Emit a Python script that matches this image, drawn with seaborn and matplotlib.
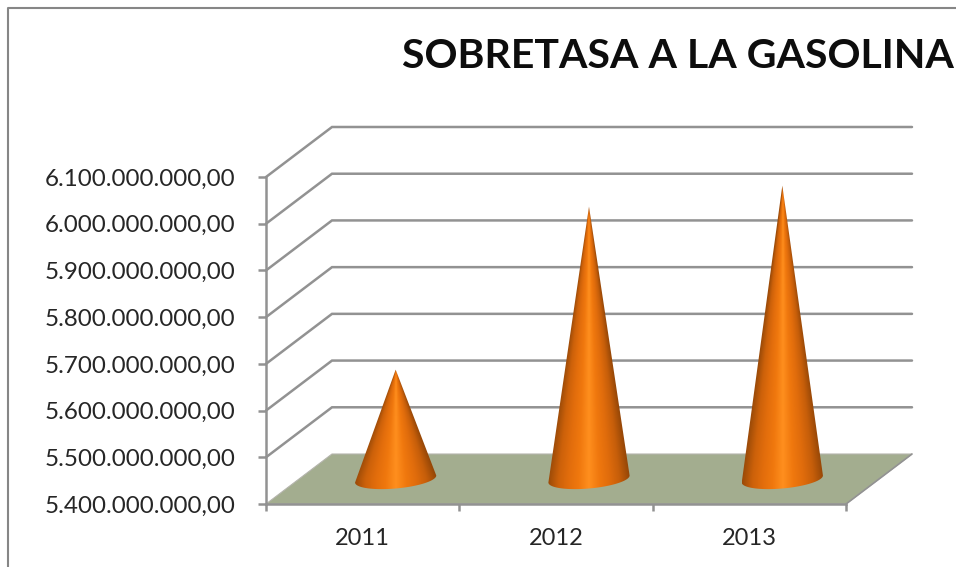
import numpy as np
import pandas as pd
import seaborn as sns
import matplotlib.pyplot as plt
from matplotlib.colors import LinearSegmentedColormap
from matplotlib.lines import Line2D
from matplotlib.patches import Polygon

anios = ["2011", "2012", "2013"]
valores = [5634000000, 5983000000, 6028000000]
ticks_y = [5400000000, 5500000000, 5600000000, 5700000000,
           5800000000, 5900000000, 6000000000, 6100000000]
etiquetas_y = ["5.400.000.000,00", "5.500.000.000,00", "5.600.000.000,00", "5.700.000.000,00",
               "5.800.000.000,00", "5.900.000.000,00", "6.000.000.000,00", "6.100.000.000,00"]
titulo = "SOBRETASA A LA GASOLINA"

W, H = 956, 567
GRIS = "#929292"
TEXTO = "#262626"

sns.set_theme(style="white")
plt.rcParams["font.family"] = ["Lato", "DejaVu Sans"]

fig = plt.figure(figsize=(W / 100, H / 100), dpi=100, facecolor="white")
ax = fig.add_axes([266 / W, (H - 504) / H, 580 / W, 327 / H])

df = pd.DataFrame({"Anio": anios, "Valor": valores})
sns.barplot(data=df, x="Anio", y="Valor", width=0.42, ax=ax)  # las barras dan la posicion de los conos

y_min, y_max = ticks_y[0], ticks_y[-1]
x_min, x_max = -0.5, 2.5
ax.set_xlim(x_min, x_max)
ax.set_ylim(y_min, y_max)

# escala pixel -> datos, para la profundidad falsa 3D
px_x = (x_max - x_min) / 580
px_y = (y_max - y_min) / 327
fondo_x = 66 * px_x
fondo_y = 50 * px_y

# pared del fondo
for t in ticks_y[1:]:
    ax.plot([x_min, x_min + fondo_x, x_max + fondo_x], [t, t + fondo_y, t + fondo_y],
            color=GRIS, lw=1.8, clip_on=False, zorder=1, solid_joinstyle="miter")

# piso
piso = Polygon(
    [(x_min, y_min), (x_max, y_min), (x_max + fondo_x, y_min + fondo_y), (x_min + fondo_x, y_min + fondo_y)],
    closed=True, facecolor="#a3ad8f", edgecolor="#b4b4ac", lw=0.8, clip_on=False, zorder=2,
)
ax.add_patch(piso)
ax.plot([x_max, x_max + fondo_x], [y_min, y_min + fondo_y], color=GRIS, lw=1.2, clip_on=False, zorder=2.5)

# conos con gradiente
colores = ["#9a4a08", "#cc610a", "#e26d0c", "#f0780e", "#ff8f1e", "#f0780e", "#e06c0c", "#c65e0a", "#964707"]
mapa = LinearSegmentedColormap.from_list("naranja", colores)
b_elipse = 9.5 * px_y
inclinacion = 3.5 * px_y

for barra in list(ax.patches):
    if not isinstance(barra, Polygon) and barra is not piso:
        barra.set_visible(False)
        centro = barra.get_x() + barra.get_width() / 2 + fondo_x / 2
        a = barra.get_width() / 2
        cima = barra.get_height() + fondo_y / 2
        base = y_min + fondo_y / 2
        t = np.linspace(0, -np.pi, 60)
        arco_x = centro + a * np.cos(t)
        arco_y = base + b_elipse * np.sin(t) + inclinacion * np.cos(t)
        puntos = np.column_stack([np.r_[centro, arco_x], np.r_[cima, arco_y]])
        cono = Polygon(puntos, closed=True, facecolor="none", edgecolor="none",
                       transform=ax.transData, clip_on=False)
        ax.add_patch(cono)
        abajo = base - 1.3 * b_elipse
        xs = np.linspace(centro - a, centro + a, 300)
        ys = np.linspace(abajo, cima, 500)
        X, Y = np.meshgrid(xs, ys)
        ancho = a * np.clip((cima - Y) / (cima - base), 0.004, 1)
        U = np.clip((X - centro) / ancho, -1, 1)
        img = ax.imshow(U, cmap=mapa, vmin=-1, vmax=1, origin="lower", aspect="auto",
                        extent=(centro - a, centro + a, abajo, cima), zorder=3, interpolation="bilinear")
        img.set_clip_path(cono)

ax.set_xlim(x_min, x_max)
ax.set_ylim(y_min, y_max)

# ejes
ax.set_xlabel("")
ax.set_ylabel("")
ax.set_yticks(ticks_y, labels=etiquetas_y)
ax.set_xticks([-0.5, 0.5, 1.5, 2.5], labels=["", "", "", ""])
ax.set_xticks([0, 1, 2], labels=anios, minor=True)
ax.tick_params(axis="y", which="major", length=6, width=1.8, color=GRIS, labelsize=17.4, labelcolor=TEXTO, pad=16, left=True)
ax.tick_params(axis="x", which="major", length=5, width=1.8, color=GRIS, bottom=True)
ax.tick_params(axis="x", which="minor", length=0, labelsize=17, labelcolor=TEXTO, pad=17, bottom=False)
sns.despine(ax=ax, top=True, right=True)
for lado in ["left", "bottom"]:
    ax.spines[lado].set_color(GRIS)
    ax.spines[lado].set_linewidth(1.8)
    ax.spines[lado].set_zorder(2.6)
ax.patch.set_alpha(0)

fig.text(402 / W, (H - 68) / H, titulo, fontsize=29.5, fontweight="bold", color="#0d0d0d", ha="left", va="baseline")

# borde del grafico
fig.add_artist(Line2D([8 / W, 8 / W, 1], [0, (H - 8) / H, (H - 8) / H], color="#868686", lw=1.5))

fig.savefig("out.png", dpi=100, facecolor="white")
